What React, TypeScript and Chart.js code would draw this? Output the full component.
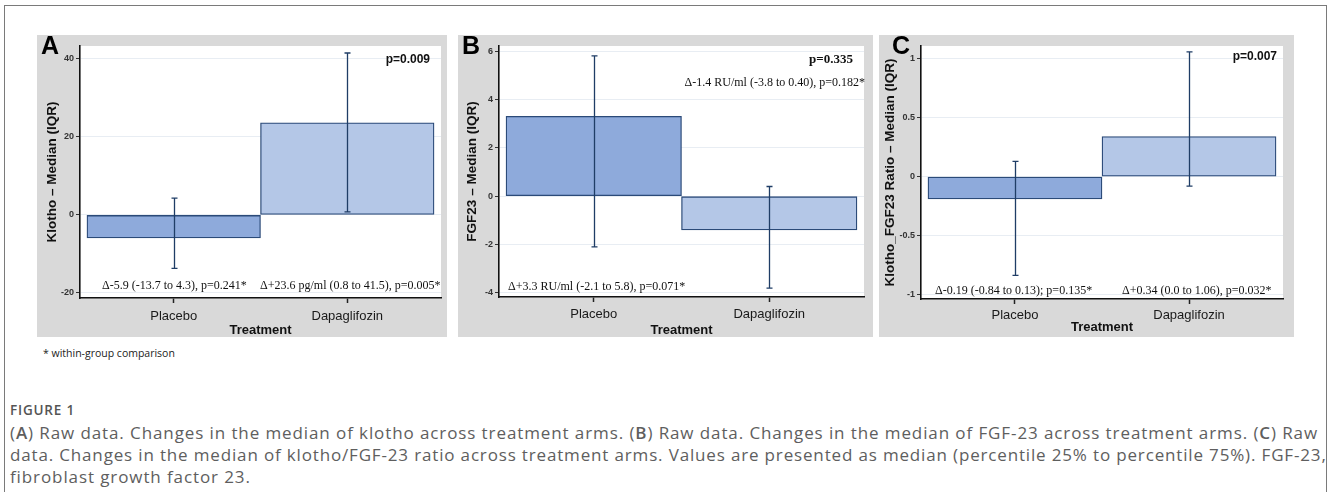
import React, { useEffect, useRef } from 'react';
import { Chart, registerables } from 'chart.js';

Chart.register(...registerables);

// ---------------- data ----------------
const categories = ['Placebo', 'Dapaglifozin'];
const categoryPositions = [0.5, 1.5];
const barColors = ['#8eaadb', '#b4c7e7'];

const klothoMedian = [-5.9, 23.6];
const klothoQ1 = [-13.7, 0.8];
const klothoQ3 = [4.3, 41.5];
const klothoTicks = [-20, 0, 20, 40];

const fgf23Median = [3.3, -1.4];
const fgf23Q1 = [-2.1, -3.8];
const fgf23Q3 = [5.8, 0.4];
const fgf23Ticks = [-4, -2, 0, 2, 4, 6];

const ratioMedian = [-0.19, 0.34];
const ratioQ1 = [-0.84, -0.08];
const ratioQ3 = [0.13, 1.06];
const ratioTicks = [-1, -0.5, 0, 0.5, 1];

const klothoNotes = ['Δ-5.9 (-13.7 to 4.3), p=0.241*', 'Δ+23.6 pg/ml (0.8 to 41.5), p=0.005*'];
const fgf23Notes = ['Δ+3.3 RU/ml (-2.1 to 5.8), p=0.071*', 'Δ-1.4 RU/ml (-3.8 to 0.40), p=0.182*'];
const ratioNotes = ['Δ-0.19 (-0.84 to 0.13); p=0.135*', 'Δ+0.34 (0.0 to 1.06), p=0.032*'];
const pValues = ['p=0.009', 'p=0.335', 'p=0.007'];

const captionLines = [
  '(A) Raw data. Changes in the median of klotho across treatment arms. (B) Raw data. Changes in the median of FGF-23 across treatment arms. (C) Raw',
  'data. Changes in the median of klotho/FGF-23 ratio across treatment arms. Values are presented as median (percentile 25% to percentile 75%). FGF-23,',
  'fibroblast growth factor 23.',
];
const captionSpacing = [0.9, 0.84, 0.9];

const SANS = '"Liberation Sans", Arial, Helvetica, sans-serif';
const SERIF = '"Liberation Serif", "Times New Roman", serif';
const OPEN = '"Open Sans", "Noto Sans", sans-serif';

type Spec = {
  left: number; top: number; width: number; height: number;
  area: { l: number; t: number; r: number; b: number };
  yMin: number; yMax: number; ticks: number[];
  median: number[]; q1: number[]; q3: number[];
  yTitle: string; yTitleSize: number; yTitlePad: number;
  xTickPad: number; xTitlePadBottom: number;
};

const panels: Spec[] = [
  {
    left: 37, top: 35, width: 410, height: 302,
    area: { l: 43, t: 11, r: 404, b: 263 },
    yMin: -21.3, yMax: 43.3, ticks: klothoTicks,
    median: klothoMedian, q1: klothoQ1, q3: klothoQ3,
    yTitle: 'Klotho – Median (IQR)', yTitleSize: 13.5, yTitlePad: 7,
    xTickPad: 6, xTitlePadBottom: 0,
  },
  {
    left: 458, top: 35, width: 415, height: 302,
    area: { l: 41, t: 11, r: 406, b: 262 },
    yMin: -4.17, yMax: 6.21, ticks: fgf23Ticks,
    median: fgf23Median, q1: fgf23Q1, q3: fgf23Q3,
    yTitle: 'FGF23 – Median (IQR)', yTitleSize: 13.5, yTitlePad: 6,
    xTickPad: 5, xTitlePadBottom: 0,
  },
  {
    left: 879, top: 35, width: 415, height: 302,
    area: { l: 42, t: 11, r: 404, b: 264 },
    yMin: -1.04, yMax: 1.11, ticks: ratioTicks,
    median: ratioMedian, q1: ratioQ1, q3: ratioQ3,
    yTitle: 'Klotho_FGF23 Ratio – Median (IQR)', yTitleSize: 13.5, yTitlePad: 3,
    xTickPad: 4, xTitlePadBottom: 3,
  },
];

function Panel({ spec }: { spec: Spec }) {
  const ref = useRef<HTMLCanvasElement>(null);
  useEffect(() => {
    const s = spec;
    const whiteArea = {
      id: 'whiteArea',
      beforeDraw(chart: any) {
        const { ctx, chartArea: a } = chart;
        ctx.save();
        ctx.fillStyle = '#ffffff';
        ctx.fillRect(a.left, a.top, a.right - a.left, a.bottom - a.top);
        ctx.restore();
      },
    };
    const errorBars = {
      id: 'errorBars',
      afterDatasetsDraw(chart: any) {
        const xs = chart.scales.x;
        const ys = chart.scales.y;
        const ctx = chart.ctx;
        ctx.save();
        ctx.strokeStyle = '#1f3d66';
        ctx.lineWidth = 1.3;
        s.median.forEach((_, i) => {
          const x = Math.round(xs.getPixelForValue(categoryPositions[i])) + 0.5;
          const y1 = ys.getPixelForValue(s.q1[i]);
          const y2 = ys.getPixelForValue(s.q3[i]);
          ctx.beginPath();
          ctx.moveTo(x, y1);
          ctx.lineTo(x, y2);
          ctx.moveTo(x - 3, y1);
          ctx.lineTo(x + 3, y1);
          ctx.moveTo(x - 3, y2);
          ctx.lineTo(x + 3, y2);
          ctx.stroke();
        });
        ctx.restore();
      },
    };
    const chart = new Chart(ref.current as HTMLCanvasElement, {
      type: 'bar',
      data: {
        datasets: [
          {
            data: s.median.map((v, i) => ({ x: categoryPositions[i], y: v })) as any,
            backgroundColor: barColors,
            borderColor: '#2b4a78',
            borderWidth: 1.3,
            borderSkipped: false,
            barPercentage: 1,
            categoryPercentage: 1,
          },
        ],
      },
      options: {
        animation: false,
        responsive: false,
        maintainAspectRatio: false,
        layout: { padding: { left: 0, top: s.area.t, right: s.width - s.area.r, bottom: 0 } },
        plugins: { legend: { display: false }, tooltip: { enabled: false } },
        scales: {
          x: {
            type: 'linear',
            offset: false,
            min: -0.04,
            max: 2.04,
            afterBuildTicks: (sc: any) => {
              sc.ticks = categoryPositions.map((v) => ({ value: v }));
            },
            afterFit: (sc: any) => {
              sc.height = s.height - s.area.b;
            },
            ticks: {
              callback: (v: any) => categories[categoryPositions.indexOf(Number(v))] ?? '',
              font: { family: SANS, size: 13 },
              color: '#1a1a1a',
              padding: s.xTickPad,
              autoSkip: false,
              maxRotation: 0,
            },
            grid: { offset: false, drawOnChartArea: false, drawTicks: true, tickLength: 5, tickColor: '#222', tickWidth: 1.5 },
            border: { display: true, color: '#111', width: 1.6 },
            title: {
              display: true,
              text: 'Treatment',
              font: { family: SANS, size: 13, weight: 'bold', lineHeight: 1 },
              color: '#111',
              padding: { top: 0, bottom: s.xTitlePadBottom },
            },
          },
          y: {
            type: 'linear',
            min: s.yMin,
            max: s.yMax,
            afterBuildTicks: (sc: any) => {
              sc.ticks = s.ticks.map((v) => ({ value: v }));
            },
            afterFit: (sc: any) => {
              sc.width = s.area.l;
            },
            ticks: {
              font: { family: SANS, size: 9, weight: 'bold' },
              color: '#333',
              padding: 2,
              callback: (v: any) => String(v),
            },
            grid: { color: '#e8edf3', lineWidth: 1, drawTicks: true, tickLength: 4, tickColor: '#333' },
            border: { display: true, color: '#111', width: 1.6 },
            title: {
              display: true,
              text: s.yTitle,
              font: { family: SANS, size: s.yTitleSize, weight: 'bold', lineHeight: 1.2 },
              color: '#111',
              padding: { top: s.yTitlePad, bottom: 0 },
            },
          },
        },
      } as any,
      plugins: [whiteArea, errorBars],
    });
    return () => chart.destroy();
  }, [spec]);
  return (
    <div
      style={{
        position: 'absolute',
        left: spec.left,
        top: spec.top,
        width: spec.width,
        height: spec.height,
        background: '#d9d9d9',
      }}
    >
      <canvas ref={ref} width={spec.width} height={spec.height} style={{ display: 'block', width: spec.width, height: spec.height }} />
    </div>
  );
}

type Label = {
  text: string; x: number; cy: number; align?: 'left' | 'right';
  family: string; size: number; weight?: number | string; color?: string;
};

const labels: Label[] = [
  { text: 'A', x: 41, cy: 45, family: SANS, size: 25, weight: 700, color: '#000' },
  { text: 'B', x: 462, cy: 45, family: SANS, size: 25, weight: 700, color: '#000' },
  { text: 'C', x: 892, cy: 45, family: SANS, size: 25, weight: 700, color: '#000' },
  { text: pValues[0], x: 430, cy: 59, align: 'right', family: SANS, size: 12, weight: 700, color: '#111' },
  { text: pValues[1], x: 853, cy: 58, align: 'right', family: SERIF, size: 13, weight: 700, color: '#111' },
  { text: pValues[2], x: 1277, cy: 56, align: 'right', family: SANS, size: 12, weight: 700, color: '#111' },
  { text: klothoNotes[0], x: 102, cy: 285, family: SERIF, size: 12, color: '#111' },
  { text: klothoNotes[1], x: 260, cy: 285, family: SERIF, size: 12, color: '#111' },
  { text: fgf23Notes[0], x: 508, cy: 286, family: SERIF, size: 12, color: '#111' },
  { text: fgf23Notes[1], x: 865, cy: 82, align: 'right', family: SERIF, size: 12, color: '#111' },
  { text: ratioNotes[0], x: 935, cy: 290, family: SERIF, size: 12, color: '#111' },
  { text: ratioNotes[1], x: 1122, cy: 290, family: SERIF, size: 12, color: '#111' },
  { text: '* within-group comparison', x: 43, cy: 353, family: OPEN, size: 10.5, color: '#222' },
];

export default function App() {
  return (
    <div
      style={{
        position: 'absolute',
        left: 0,
        top: 0,
        width: 1328,
        height: 492,
        overflow: 'hidden',
        background: '#fff',
      }}
    >
      <div
        style={{
          position: 'absolute',
          left: 4,
          top: 5,
          width: 1321,
          height: 520,
          borderTop: '1px solid #7a7a7a',
          borderLeft: '1px solid #7a7a7a',
          borderRight: '1px solid #7a7a7a',
        }}
      />
      {panels.map((p, i) => (
        <Panel key={i} spec={p} />
      ))}
      {labels.map((l, i) => (
        <div
          key={i}
          style={{
            position: 'absolute',
            top: l.cy - l.size / 2,
            ...(l.align === 'right' ? { right: 1328 - l.x } : { left: l.x }),
            fontFamily: l.family,
            fontSize: l.size,
            fontWeight: l.weight ?? 400,
            color: l.color ?? '#000',
            lineHeight: 1,
            whiteSpace: 'nowrap',
          }}
        >
          {l.text}
        </div>
      ))}
      <div
        style={{
          position: 'absolute',
          left: 10,
          top: 410 - 7,
          fontFamily: OPEN,
          fontSize: 13.5,
          fontWeight: 600,
          letterSpacing: 0.8,
          color: '#555',
          lineHeight: '14px',
          whiteSpace: 'nowrap',
        }}
      >
        FIGURE 1
      </div>
      {captionLines.map((line, i) => (
        <div
          key={'c' + i}
          style={{
            position: 'absolute',
            left: 10,
            top: 433 + i * 22 - 11,
            fontFamily: OPEN,
            fontSize: 17,
            letterSpacing: captionSpacing[i],
            color: '#5e5e5e',
            lineHeight: '22px',
            whiteSpace: 'nowrap',
          }}
        >
          {i === 0 ? (
            <>
              (<b style={{ fontWeight: 600 }}>A</b>) Raw data. Changes in the median of klotho across treatment arms. (
              <b style={{ fontWeight: 600 }}>B</b>) Raw data. Changes in the median of FGF-23 across treatment arms. (
              <b style={{ fontWeight: 600 }}>C</b>) Raw
            </>
          ) : (
            line
          )}
        </div>
      ))}
    </div>
  );
}
